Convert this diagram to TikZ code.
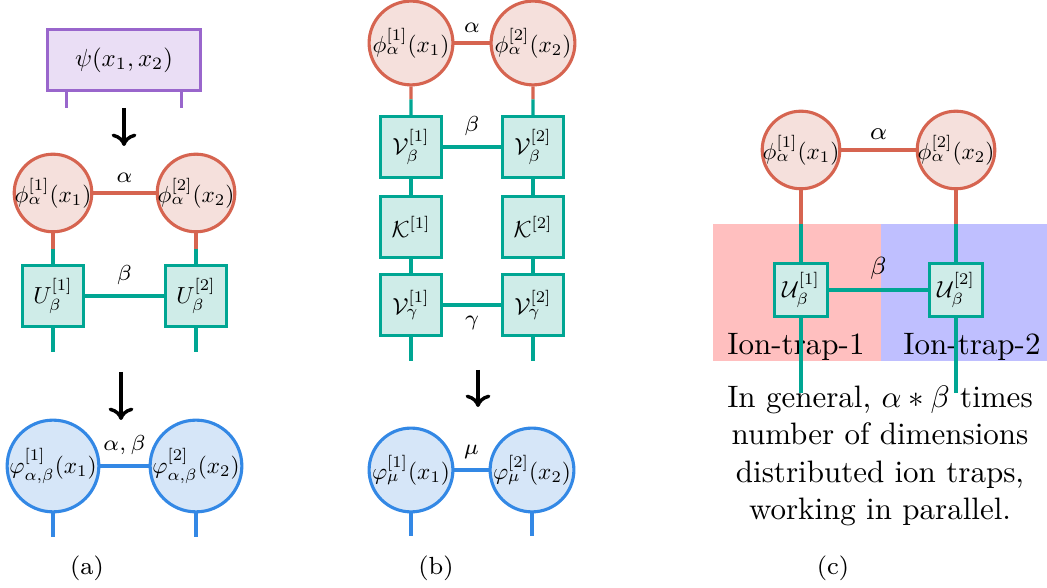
\documentclass[tikz,border=0pt]{standalone}
\usepackage{amsmath}
\usepackage{tikz, xcolor}
\usetikzlibrary{calc, arrows.meta}

\definecolor{redB}{RGB}{214,100,80}
\definecolor{redF}{RGB}{245,224,220}
\definecolor{tealB}{RGB}{0,166,147}
\definecolor{tealF}{RGB}{207,236,232}
\definecolor{blueB}{RGB}{51,136,229}
\definecolor{blueF}{RGB}{214,230,248}
\definecolor{purpB}{RGB}{153,102,204}
\definecolor{purpF}{RGB}{234,222,245}
\definecolor{bgR}{RGB}{255,191,191}
\definecolor{bgB}{RGB}{191,191,255}

\newcommand{\nlab}[1]{\scalebox{0.75}{$#1$}}

\tikzset{
  phinode/.style={circle, draw=redB, fill=redF, line width=1pt, inner sep=-4pt},
  varnode/.style={circle, draw=blueB, fill=blueF, line width=1pt, inner sep=-4pt},
  tbox/.style={rectangle, draw=tealB, fill=tealF, line width=1pt, inner sep=0pt, minimum size=0.69cm},
  psibox/.style={rectangle, draw=purpB, fill=purpF, line width=1pt, minimum width=1.73cm, minimum height=0.69cm},
  redline/.style={draw=redB, line width=1pt},
  tealline/.style={draw=tealB, line width=1pt},
  blueline/.style={draw=blueB, line width=1pt},
  purpline/.style={draw=purpB, line width=1pt},
  bigarrow/.style={line width=1.1pt, -{To[length=4pt,width=8pt]}},
  lbl/.style={font=\scriptsize, inner sep=1pt}
}

\begin{document}
\begin{tikzpicture}[x=0.01134cm, y=-0.01134cm]
    \useasboundingbox (0,0) rectangle (1047,588);

    % (a)
    \node [psibox] (psi) at (124,60) {\scalebox{0.8}{$\psi(x_1,x_2)$}};
    \draw [purpline] ($(psi.south west)+(20,0)$) -- ++(0,16);
    \draw [purpline] ($(psi.south east)+(-20,0)$) -- ++(0,16);

    \coordinate (arA1) at (124,108);
    \coordinate (arA2) at (124,146);
    \draw [bigarrow] (arA1) -- (arA2);

    \node [phinode, minimum size=0.88cm] (pa1) at (53,193) {\nlab{\phi^{[1]}_\alpha(x_1)}};
    \node [phinode, minimum size=0.88cm] (pa2) at (196,193) {\nlab{\phi^{[2]}_\alpha(x_2)}};
    \draw [redline] (pa1) -- node [lbl, above=2pt] {$\alpha$} (pa2);

    \node [tbox] (ua1) at (53,296) {\nlab{U^{[1]}_\beta}};
    \node [tbox] (ua2) at (196,296) {\nlab{U^{[2]}_\beta}};
    \draw [tealline] (ua1) -- node [lbl, above=2pt] {$\beta$} (ua2);

    \coordinate (ma1) at ($(pa1.south)!.5!(ua1.north)$);
    \coordinate (ma2) at ($(pa2.south)!.5!(ua2.north)$);
    \draw [redline] (pa1.south) -- (ma1);
    \draw [tealline] (ma1) -- (ua1.north);
    \draw [redline] (pa2.south) -- (ma2);
    \draw [tealline] (ma2) -- (ua2.north);
    \draw [tealline] (ua1.south) -- ++(0,24);
    \draw [tealline] (ua2.south) -- ++(0,24);

    \coordinate (arA3) at (121,372);
    \coordinate (arA4) at (121,420);
    \draw [bigarrow] (arA3) -- (arA4);

    \node [varnode, minimum size=1.04cm] (va1) at (53,466) {\nlab{\varphi^{[1]}_{\alpha,\beta}(x_1)}};
    \node [varnode, minimum size=1.04cm] (va2) at (196,466) {\nlab{\varphi^{[2]}_{\alpha,\beta}(x_2)}};
    \draw [blueline] (va1) -- node [lbl, above=2pt] {$\alpha,\beta$} (va2);
    \draw [blueline] (va1.south) -- ++(0,24);
    \draw [blueline] (va2.south) -- ++(0,24);

    \node [font=\footnotesize] (capa) at (87,568) {(a)};

    % (b)
    \node [phinode, minimum size=0.95cm] (pb1) at (411,43) {\nlab{\phi^{[1]}_\alpha(x_1)}};
    \node [phinode, minimum size=0.95cm] (pb2) at (533,43) {\nlab{\phi^{[2]}_\alpha(x_2)}};
    \draw [redline] (pb1) -- node [lbl, above=2pt] {$\alpha$} (pb2);

    \node [tbox] (vb1) at (411,147) {\nlab{\mathcal{V}^{[1]}_\beta}};
    \node [tbox] (vb2) at (533,147) {\nlab{\mathcal{V}^{[2]}_\beta}};
    \draw [tealline] (vb1) -- node [lbl, above=2pt] {$\beta$} (vb2);

    \node [tbox] (kb1) at (411,227) {\nlab{\mathcal{K}^{[1]}}};
    \node [tbox] (kb2) at (533,227) {\nlab{\mathcal{K}^{[2]}}};

    \node [tbox] (gb1) at (411,305) {\nlab{\mathcal{V}^{[1]}_\gamma}};
    \node [tbox] (gb2) at (533,305) {\nlab{\mathcal{V}^{[2]}_\gamma}};
    \draw [tealline] (gb1) -- node [lbl, below=2pt] {$\gamma$} (gb2);

    \coordinate (mb1) at ($(pb1.south)!.45!(vb1.north)$);
    \coordinate (mb2) at ($(pb2.south)!.45!(vb2.north)$);
    \draw [redline] (pb1.south) -- (mb1);
    \draw [tealline] (mb1) -- (vb1.north);
    \draw [redline] (pb2.south) -- (mb2);
    \draw [tealline] (mb2) -- (vb2.north);
    \draw [tealline] (vb1) -- (kb1);
    \draw [tealline] (vb2) -- (kb2);
    \draw [tealline] (kb1) -- (gb1);
    \draw [tealline] (kb2) -- (gb2);
    \draw [tealline] (gb1.south) -- ++(0,24);
    \draw [tealline] (gb2.south) -- ++(0,24);

    \coordinate (arB1) at (478,370);
    \coordinate (arB2) at (478,407);
    \draw [bigarrow] (arB1) -- (arB2);

    \node [varnode, minimum size=0.95cm] (vv1) at (411,470) {\nlab{\varphi^{[1]}_{\mu}(x_1)}};
    \node [varnode, minimum size=0.95cm] (vv2) at (532,470) {\nlab{\varphi^{[2]}_{\mu}(x_2)}};
    \draw [blueline] (vv1) -- node [lbl, above=2pt] {$\mu$} (vv2);
    \draw [blueline] (vv1.south) -- ++(0,23);
    \draw [blueline] (vv2.south) -- ++(0,23);

    \node [font=\footnotesize] (capb) at (436,568) {(b)};

    % (c)
    \fill [bgR] (713,224) rectangle (881,361);
    \fill [bgB] (881,224) rectangle (1047,361);

    \node [phinode, minimum size=0.88cm] (pc1) at (801,150) {\nlab{\phi^{[1]}_\alpha(x_1)}};
    \node [phinode, minimum size=0.88cm] (pc2) at (956,150) {\nlab{\phi^{[2]}_\alpha(x_2)}};
    \draw [redline] (pc1) -- node [lbl, font=\footnotesize, above=2pt] {$\alpha$} (pc2);

    \node [tbox, minimum size=0.61cm] (uc1) at (801,290) {\nlab{\mathcal{U}^{[1]}_\beta}};
    \node [tbox, minimum size=0.61cm] (uc2) at (956,290) {\nlab{\mathcal{U}^{[2]}_\beta}};
    \draw [tealline] (uc1) -- node [lbl, font=\footnotesize, above=2pt] {$\beta$} (uc2);

    \node (it1) at (796,347) {Ion-trap-1};
    \node (it2) at (972,347) {Ion-trap-2};

    \coordinate (mc1) at (801,224);
    \coordinate (mc2) at (956,224);
    \draw [redline] (pc1.south) -- (mc1);
    \draw [tealline] (mc1) -- (uc1.north);
    \draw [redline] (pc2.south) -- (mc2);
    \draw [tealline] (mc2) -- (uc2.north);
    \draw [tealline] (uc1.south) -- ++(0,75);
    \draw [tealline] (uc2.south) -- ++(0,75);

    \node [align=center] (note) at (880,456) {In general, $\alpha * \beta$ times\\ number of dimensions\\ distributed ion traps,\\ working in parallel.};

    \node [font=\footnotesize] (capc) at (833,568) {(c)};

  \end{tikzpicture}
\end{document}
